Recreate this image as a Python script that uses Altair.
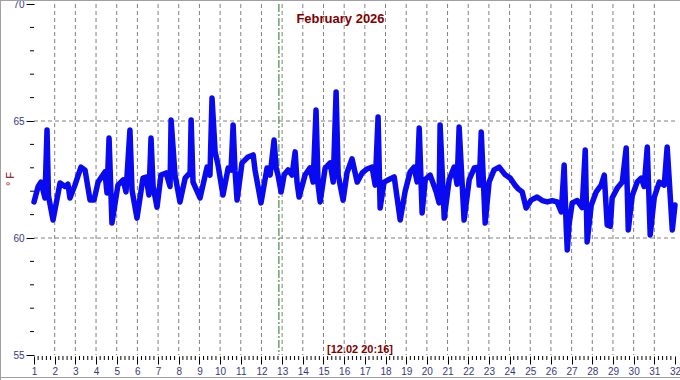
import altair as alt
import pandas as pd

# ---- data (day of month, temperature in °F) ----
days = [
    1.00, 1.20, 1.34, 1.53, 1.63, 1.70, 1.92,
    2.26, 2.50, 2.64, 2.74, 2.98,
    3.27, 3.47, 3.71, 3.90,
    4.10, 4.43, 4.53, 4.63, 4.77,
    5.06, 5.31, 5.45, 5.64, 5.74, 5.98,
    6.27, 6.42, 6.56, 6.66, 6.76, 6.95,
    7.14, 7.39, 7.58, 7.63, 7.82,
    8.06, 8.31, 8.55, 8.60, 8.69,
    9.03, 9.37, 9.51, 9.61, 9.76, 9.90,
    10.14, 10.39, 10.53, 10.63, 10.72, 10.82,
    11.06, 11.35, 11.60, 11.69, 11.98,
    12.27, 12.42, 12.61, 12.71, 12.80, 12.95,
    13.10, 13.29, 13.48, 13.63, 13.72, 13.82,
    14.11, 14.35, 14.50, 14.64, 14.74, 14.84,
    15.08, 15.32, 15.47, 15.61, 15.71, 15.95,
    16.14, 16.38, 16.63, 16.87,
    17.11, 17.35, 17.50, 17.64, 17.74, 17.93,
    18.17, 18.42, 18.71, 18.95,
    19.19, 19.38, 19.53, 19.63, 19.77, 19.92,
    20.16, 20.45, 20.59, 20.64, 20.84,
    21.08, 21.32, 21.46, 21.56, 21.80,
    22.05, 22.29, 22.48, 22.53, 22.63, 22.82,
    23.01, 23.25, 23.50, 23.79,
    24.03, 24.27, 24.42, 24.61, 24.80,
    25.04, 25.33, 25.58, 25.82,
    26.06, 26.30, 26.50, 26.64, 26.74, 26.79, 26.88,
    27.03, 27.27, 27.51, 27.66, 27.75, 27.95,
    28.19, 28.43, 28.58, 28.72, 28.87, 28.96,
    29.21, 29.45, 29.64, 29.74, 29.93,
    30.17, 30.37, 30.51, 30.66, 30.80,
    31.00, 31.24, 31.48, 31.62, 31.72, 31.87,
    32.00,
]
temps = [
    61.54, 62.20, 62.39, 61.71, 64.62, 61.80, 60.77,
    62.35, 62.20, 62.30, 61.71, 62.26,
    63.03, 62.90, 61.62, 61.62,
    62.39, 62.82, 61.92, 64.27, 60.64,
    62.26, 62.48, 61.97, 64.62, 62.05, 60.85,
    62.56, 62.60, 61.84, 64.27, 62.20, 61.32,
    62.69, 62.78, 62.20, 65.04, 62.69,
    61.54, 62.56, 62.80, 65.04, 62.39,
    61.71, 63.03, 62.69, 65.98, 63.68, 63.12,
    61.84, 62.99, 62.90, 64.83, 62.90, 61.62,
    63.21, 63.46, 63.55, 62.90, 61.50,
    62.99, 62.69, 64.19, 62.99, 62.69, 61.97,
    62.70, 62.91, 62.69, 63.68, 62.39, 61.75,
    62.69, 63.00, 62.39, 65.47, 62.26, 61.54,
    62.99, 63.21, 62.39, 66.24, 62.69, 61.62,
    62.80, 63.38, 62.39, 62.78,
    62.95, 63.03, 62.26, 65.17, 61.28, 62.39,
    62.50, 62.61, 60.77, 62.00,
    62.82, 63.03, 62.40, 64.70, 61.07, 62.50,
    62.69, 61.97, 61.50, 64.83, 60.85,
    62.50, 63.03, 62.30, 64.74, 60.77,
    62.50, 62.99, 63.03, 62.26, 64.53, 60.64,
    62.39, 62.91, 63.03, 62.70,
    62.56, 62.25, 62.10, 61.97, 61.28,
    61.62, 61.75, 61.60, 61.54,
    61.60, 61.54, 61.11, 63.12, 60.43, 59.49, 60.60,
    61.50, 61.60, 61.30, 63.76, 59.83, 61.40,
    61.97, 62.26, 62.69, 60.56, 60.50, 61.71,
    62.14, 62.39, 63.85, 60.34, 61.80,
    62.39, 62.56, 62.20, 63.89, 60.13,
    61.75, 62.39, 62.26, 63.89, 62.50, 60.34,
    61.41,
]

x_labels = list(range(1, 33))
y_labels = [55, 60, 65, 70]
y_minor = [v for v in range(56, 70) if v % 5 != 0]
x_grid = list(range(2, 32))
y_grid = [60, 65]
minor_per_day = 5
x_minor = [d + k / minor_per_day for d in range(1, 32) for k in range(1, minor_per_day)]
marker_day = [12 + (20 + 16 / 60) / 24]   # 12.02 20:16
title_text = ["February 2026"]
marker_text = ["[12.02 20:16]"]
unit_text = ["° F"]

# ---- layout / style ----
W, H = 641, 351
FONT = "Liberation Sans"
LBL = "#383880"
RED = "#800000"

xs = alt.Scale(domain=[1, 32], nice=False, zero=False)
ys = alt.Scale(domain=[55, 70], nice=False, zero=False)

X_AX = alt.Axis(
    values=x_labels, tickSize=8, tickColor="black", tickWidth=1, domain=False, grid=False,
    labelColor=LBL, labelFont=FONT, labelFontSize=10, labelPadding=2, offset=1,
    labelFlush=False, labelOverlap=False, format="d", title=None)
Y_AX = alt.Axis(
    values=y_labels, tickSize=8, tickColor="black", tickWidth=1, domain=False, grid=False,
    labelColor=LBL, labelFont=FONT, labelFontSize=10, labelPadding=2,
    labelFlush=False, labelOverlap=False, format="d", title=None)

df = pd.DataFrame({"x": days, "y": temps})

one = pd.DataFrame({"a": [0]})
border_left = alt.Chart(one).mark_rule(color="#a0a0a0", strokeWidth=1).encode(
    x=alt.value(-33.5), y=alt.value(-4), y2=alt.value(376))
border_top = alt.Chart(one).mark_rule(color="#a0a0a0", strokeWidth=1).encode(
    x=alt.value(-34), x2=alt.value(646), y=alt.value(-3.5))
border_bottom = alt.Chart(one).mark_rule(color="#a0a0a0", strokeWidth=1).encode(
    x=alt.value(-34), x2=alt.value(646), y=alt.value(373.5))

vgrid = alt.Chart(pd.DataFrame({"x": x_grid})).mark_rule(
    color="#808080", strokeDash=[4, 3], strokeWidth=1).encode(
    x=alt.X("x:Q", scale=xs, axis=X_AX), y=alt.value(0), y2=alt.value(H))

hgrid = alt.Chart(pd.DataFrame({"y": y_grid})).mark_rule(
    color="#808080", strokeDash=[4, 3], strokeWidth=1).encode(
    y=alt.Y("y:Q", scale=ys, axis=Y_AX), x=alt.value(0), x2=alt.value(W))

marker = alt.Chart(pd.DataFrame({"x": marker_day})).mark_rule(
    color="#1a7a1a", strokeDash=[8, 2, 2, 2], strokeWidth=1).encode(
    x=alt.X("x:Q", scale=xs, axis=X_AX), y=alt.value(0), y2=alt.value(H))

xminor = alt.Chart(pd.DataFrame({"x": x_minor})).mark_rule(color="black", strokeWidth=1).encode(
    x=alt.X("x:Q", scale=xs, axis=X_AX), y=alt.value(H + 1), y2=alt.value(H + 5))

yminor = alt.Chart(pd.DataFrame({"y": y_minor})).mark_rule(color="black", strokeWidth=1).encode(
    y=alt.Y("y:Q", scale=ys, axis=Y_AX), x=alt.value(-4), x2=alt.value(0))

line = alt.Chart(df).mark_line(
    color="#0a0af0", strokeWidth=5.5, strokeJoin="round", strokeCap="round").encode(
    x=alt.X("x:Q", scale=xs, axis=X_AX),
    y=alt.Y("y:Q", scale=ys, axis=Y_AX),
)

title = alt.Chart(pd.DataFrame({"s": title_text})).mark_text(
    font=FONT, fontSize=13, fontWeight="bold", color=RED, align="center", baseline="alphabetic").encode(
    text="s:N", x=alt.value(306.5), y=alt.value(19))

mlabel = alt.Chart(pd.DataFrame({"s": marker_text})).mark_text(
    font=FONT, fontSize=11, fontWeight="bold", color=RED, align="center", baseline="alphabetic").encode(
    text="s:N", x=alt.value(326), y=alt.value(349))

unit = alt.Chart(pd.DataFrame({"s": unit_text})).mark_text(
    font=FONT, fontSize=11, color=RED, align="center", baseline="middle", angle=270).encode(
    text="s:N", x=alt.value(-23), y=alt.value(175))

chart = alt.layer(
    border_left, border_top, border_bottom, vgrid, hgrid, marker, xminor, yminor, line, title, mlabel, unit
).properties(
    width=W, height=H, autosize="none",
    padding={"left": 34, "top": 4, "right": 5, "bottom": 25},
    background="white",
).configure_view(stroke=None)

chart.save("out.html", embed_options={"renderer": "svg", "actions": False})
